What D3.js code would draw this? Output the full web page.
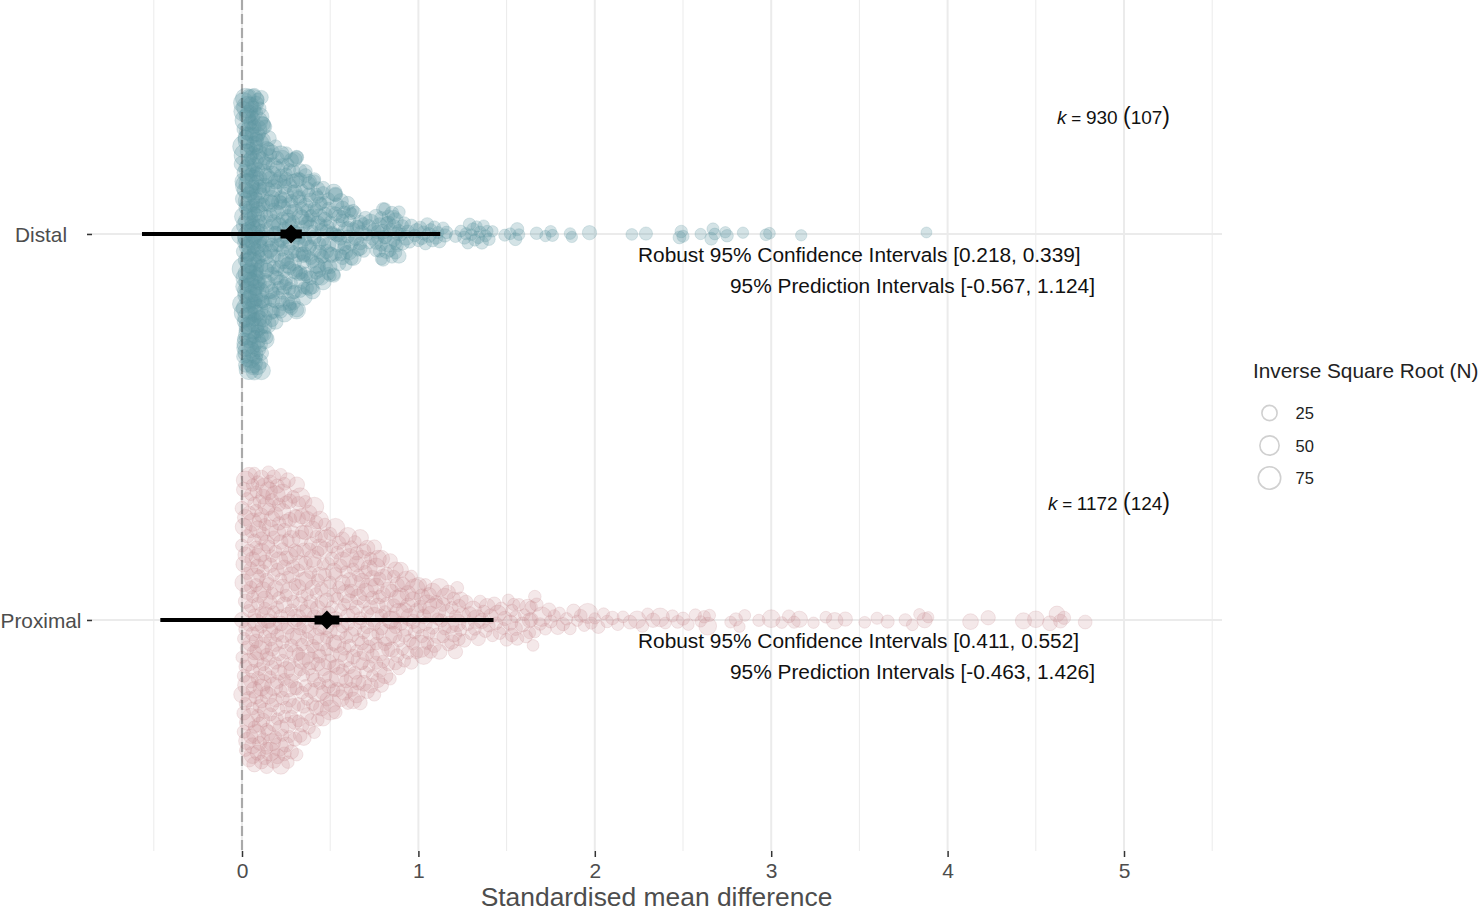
<!DOCTYPE html>
<html>
<head>
<meta charset="utf-8">
<script src="https://cdn.jsdelivr.net/npm/d3@7"></script>
<style>
  body { margin: 0; background: #fff; }
  text { font-family: "Liberation Sans", Arial, sans-serif; }
</style>
</head>
<body>
<svg id="chart"></svg>
<script>
const moderators = ['Distal', 'Proximal'];
const xTicks = [0, 1, 2, 3, 4, 5];
const xMinor = [-0.5, 0.5, 1.5, 2.5, 3.5, 4.5, 5.5];

const meanSmd = [0.278, 0.481];
const ciLow = [0.218, 0.411];
const ciHigh = [0.339, 0.552];
const piLow = [-0.567, -0.463];
const piHigh = [1.124, 1.426];
const kEffects = [930, 1172];
const kStudies = [107, 124];

const legendSizes = [25, 50, 75];

const distalSmd = [
  0,0,0,0.01,0.01,0.01,0.01,0.01,0.01,0.01,
  0.01,0.01,0.01,0.01,0.01,0.01,0.01,0.02,0.02,0.02,
  0.02,0.02,0.02,0.02,0.02,0.02,0.02,0.02,0.02,0.02,
  0.02,0.02,0.02,0.03,0.03,0.03,0.03,0.03,0.03,0.03,
  0.03,0.03,0.03,0.03,0.03,0.03,0.03,0.03,0.03,0.03,
  0.03,0.03,0.04,0.04,0.04,0.04,0.04,0.04,0.04,0.04,
  0.04,0.04,0.04,0.04,0.04,0.04,0.04,0.04,0.04,0.04,
  0.04,0.04,0.04,0.04,0.05,0.05,0.05,0.05,0.05,0.05,
  0.05,0.05,0.05,0.05,0.05,0.05,0.05,0.05,0.05,0.05,
  0.05,0.05,0.06,0.06,0.06,0.06,0.06,0.06,0.06,0.06,
  0.06,0.06,0.06,0.06,0.06,0.06,0.06,0.06,0.06,0.06,
  0.06,0.06,0.07,0.07,0.07,0.07,0.07,0.07,0.07,0.07,
  0.07,0.07,0.07,0.07,0.07,0.07,0.07,0.07,0.07,0.07,
  0.07,0.08,0.08,0.08,0.08,0.08,0.08,0.08,0.08,0.08,
  0.08,0.08,0.08,0.08,0.08,0.08,0.08,0.08,0.08,0.09,
  0.09,0.09,0.09,0.09,0.09,0.09,0.09,0.09,0.09,0.09,
  0.09,0.09,0.09,0.09,0.09,0.09,0.10,0.10,0.10,0.10,
  0.10,0.10,0.10,0.10,0.10,0.10,0.10,0.10,0.10,0.10,
  0.10,0.10,0.11,0.11,0.11,0.11,0.11,0.11,0.11,0.11,
  0.11,0.11,0.11,0.12,0.12,0.12,0.12,0.12,0.12,0.12,
  0.12,0.12,0.12,0.13,0.13,0.13,0.13,0.13,0.13,0.13,
  0.13,0.13,0.14,0.14,0.14,0.14,0.14,0.14,0.14,0.14,
  0.14,0.14,0.14,0.15,0.15,0.15,0.15,0.15,0.15,0.16,
  0.16,0.16,0.16,0.16,0.16,0.16,0.17,0.17,0.17,0.17,
  0.17,0.17,0.17,0.17,0.18,0.18,0.18,0.18,0.18,0.18,
  0.18,0.18,0.19,0.19,0.19,0.19,0.19,0.19,0.20,0.20,
  0.20,0.20,0.20,0.20,0.21,0.21,0.21,0.21,0.21,0.21,
  0.21,0.22,0.22,0.22,0.22,0.22,0.23,0.23,0.23,0.23,
  0.23,0.23,0.23,0.24,0.24,0.24,0.24,0.25,0.25,0.25,
  0.25,0.25,0.25,0.26,0.26,0.26,0.26,0.27,0.27,0.27,
  0.27,0.27,0.28,0.28,0.28,0.28,0.28,0.29,0.29,0.29,
  0.29,0.29,0.30,0.30,0.30,0.30,0.31,0.31,0.31,0.31,
  0.31,0.32,0.32,0.32,0.32,0.33,0.33,0.33,0.33,0.34,
  0.34,0.34,0.35,0.35,0.35,0.36,0.36,0.36,0.36,0.37,
  0.37,0.37,0.38,0.38,0.38,0.39,0.39,0.39,0.40,0.40,
  0.40,0.41,0.41,0.41,0.42,0.42,0.42,0.43,0.43,0.43,
  0.44,0.44,0.44,0.45,0.45,0.45,0.46,0.46,0.46,0.47,
  0.47,0.47,0.48,0.48,0.49,0.49,0.49,0.50,0.50,0.51,
  0.51,0.51,0.52,0.52,0.53,0.53,0.53,0.54,0.54,0.55,
  0.55,0.56,0.56,0.57,0.57,0.58,0.58,0.59,0.59,0.60,
  0.60,0.61,0.61,0.62,0.62,0.63,0.63,0.64,0.65,0.65,
  0.66,0.67,0.67,0.68,0.69,0.70,0.71,0.72,0.72,0.73,
  0.74,0.75,0.76,0.76,0.77,0.78,0.78,0.79,0.79,0.80,
  0.80,0.81,0.81,0.82,0.82,0.83,0.83,0.84,0.85,0.85,
  0.86,0.86,0.87,0.87,0.88,0.88,0.89,0.89,0.90,0.91,
  0.91,0.92,0.93,0.94,0.95,0.96,0.98,0.99,1.00,1.01,
  1.02,1.03,1.04,1.05,1.06,1.07,1.08,1.09,1.10,1.11,
  1.12,1.14,1.15,1.16,1.21,1.24,1.26,1.27,1.28,1.29,
  1.30,1.31,1.32,1.33,1.34,1.35,1.36,1.37,1.38,1.39,
  1.40,1.42,1.49,1.52,1.55,1.56,1.57,1.67,1.72,1.75,
  1.76,1.86,1.87,1.97,2.21,2.29,2.48,2.49,2.50,2.60,
  2.66,2.67,2.68,2.74,2.75,2.84,2.97,2.99,3.17,3.88,
  0.20,0.22,0.24,0.24,0.26,0.28,0.27,0.30,0.32,0.33,
  0.34,0.31,0.35,0.36,0.37,0.38,0.39,0.40,0.42,0.44,
  0.46,0.48,0.50,0.53,0.55,0.57,0.59,0.61,0.35,0.38,
  0.13,0.15,0.16,0.17,0.18,0.19,0.20,0.21,0.22,0.23,
  0.23,0.24,0.25,0.25,0.26,0.26,0.27,0.27,0.28,0.28,
  0.29,0.29,0.30,0.30,0.31,0.31,0.32,0.32,0.33,0.33,
  0.34,0.34,0.35,0.36,0.36,0.37,0.37,0.38,0.39,0.39,
  0.40,0.41,0.41,0.42,0.43,0.43,0.44,0.45,0.45,0.46,
  0.47,0.47,0.48,0.49,0.50,0.51,0.52,0.53,0.54,0.55,
  0.56,0.57,0.58,0.60,0.62,0.63,0.64,0.66,0.67,0.69,
  0.76,0.77,0.79,0.80,0.81,0.83,0.84,0.86,0.87,0.89
];

const distalN = [
  55,20,38,12,70,25,9,44,16,30,
  10,60,22,35,14,48,8,27,64,18,
  40,11,30,52,15,24,9,66,20,34,
  13,45,19,28,58,10,36,17,50,23,
  12,72,26,14,42,31,8,55,21,16,
  38,11,47,24,62,13,29,18,52,9,
  34,20,44,15,68,27,10,39,22,56,
  12,30,17,48,25,9,60,14,33,21,
  42,11,28,90,16,36,24,13,54,19,
  31,10,46,22,15,64,27,12,38,18,
  50,9,26,14,34,20,58,11,29,17,
  43,24,13,36,10,21,52,16,28,12,
  40,19,9,33,15,47,23,11,30,17,
  25,56,13,20,37,10,27,15,44,12,
  22,32,9,18,50,14,26,11,35,16,
  21,42,12,28,10,19,38,15,24,9,
  33,13,46,17,11,27,20,36,10,14,
  25,16,40,12,22,9,30,15,18,34,
  11,24,14,38,10,20,13,28,16,9,
  32,12,18,26,10,15,42,11,21,14,
  24,9,30,13,17,10,35,12,20,15,
  11,26,14,9,38,16,12,22,10,18,
  28,13,8,20,15,11,32,9,17,12,
  24,10,14,30,8,19,12,26,9,15,
  11,22,13,34,10,16,8,20,12,18,
  9,28,14,11,17,7,24,10,13,20,
  8,15,30,11,9,18,12,22,7,14,
  10,26,13,8,17,11,20,9,15,12,
  7,24,10,16,8,13,28,9,11,18,
  14,8,20,10,12,7,16,24,9,13,
  11,18,8,14,22,10,7,13,26,9,
  15,12,8,20,11,16,7,10,30,13,
  9,18,12,7,14,24,8,11,16,10,
  20,7,13,9,26,11,8,15,12,18,
  7,10,22,9,14,8,12,16,11,7,
  19,9,13,8,24,10,7,15,11,12,
  8,18,10,7,14,9,22,12,8,16,
  11,7,13,20,9,8,15,10,12,7,
  17,8,11,24,9,13,7,10,15,8,
  12,18,7,9,14,8,11,20,7,13,
  10,8,16,7,12,9,22,8,14,11,
  7,13,9,18,8,11,7,15,10,26,
  8,12,7,14,9,20,8,11,7,16,
  10,7,13,9,18,8,24,11,7,12,
  9,15,8,20,7,11,14,8,10,7,
  12,8,18,9,7,11,8,14,7,10,
  8,13,7,9,16,7,10,8,12,7,
  9,7,11,8,7,6,10,7,5,8,
  6,9,7,5,8,6,10,5,7,6,
  8,5,7,6,9,10,6,8,5,6,
  7,6,5,14,6,10,9,8,7,5,
  9,7,6,5,8,5,6,6,5,4,
  12,8,16,9,20,7,11,14,8,10,
  7,15,9,12,8,18,7,11,9,13,
  8,10,7,14,9,8,11,7,16,9,
  14,9,20,11,7,16,8,24,10,13,
  7,18,9,12,8,22,10,7,15,9,
  11,7,16,8,13,9,26,7,12,10,
  8,15,7,11,20,9,7,13,8,17,
  10,7,12,9,18,8,11,7,14,9,
  7,13,8,10,16,7,9,12,8,11,
  7,14,9,8,12,7,10,8,13,7,
  9,12,7,10,8,14,7,11,8,9
];

const proximalSmd = [
  0,0,0,0,0,0.01,0.01,0.01,0.01,0.01,
  0.01,0.01,0.01,0.02,0.02,0.02,0.02,0.02,0.02,0.02,
  0.02,0.03,0.03,0.03,0.03,0.03,0.03,0.03,0.03,0.04,
  0.04,0.04,0.04,0.04,0.04,0.04,0.04,0.05,0.05,0.05,
  0.05,0.05,0.05,0.05,0.05,0.05,0.06,0.06,0.06,0.06,
  0.06,0.06,0.06,0.06,0.06,0.07,0.07,0.07,0.07,0.07,
  0.07,0.07,0.07,0.07,0.08,0.08,0.08,0.08,0.08,0.08,
  0.08,0.08,0.08,0.09,0.09,0.09,0.09,0.09,0.09,0.09,
  0.09,0.09,0.10,0.10,0.10,0.10,0.10,0.10,0.10,0.10,
  0.10,0.11,0.11,0.11,0.11,0.11,0.11,0.11,0.11,0.11,
  0.12,0.12,0.12,0.12,0.12,0.12,0.12,0.12,0.12,0.13,
  0.13,0.13,0.13,0.13,0.13,0.13,0.13,0.13,0.14,0.14,
  0.14,0.14,0.14,0.14,0.14,0.14,0.14,0.15,0.15,0.15,
  0.15,0.15,0.15,0.15,0.15,0.15,0.16,0.16,0.16,0.16,
  0.16,0.16,0.16,0.16,0.16,0.17,0.17,0.17,0.17,0.17,
  0.17,0.17,0.17,0.18,0.18,0.18,0.18,0.18,0.18,0.18,
  0.18,0.19,0.19,0.19,0.19,0.19,0.19,0.19,0.19,0.20,
  0.20,0.20,0.20,0.20,0.20,0.20,0.20,0.21,0.21,0.21,
  0.21,0.21,0.21,0.21,0.21,0.22,0.22,0.22,0.22,0.22,
  0.22,0.22,0.22,0.23,0.23,0.23,0.23,0.23,0.23,0.23,
  0.23,0.24,0.24,0.24,0.24,0.24,0.24,0.24,0.24,0.25,
  0.25,0.25,0.25,0.25,0.25,0.25,0.25,0.26,0.26,0.26,
  0.26,0.26,0.26,0.26,0.26,0.27,0.27,0.27,0.27,0.27,
  0.27,0.27,0.28,0.28,0.28,0.28,0.28,0.28,0.28,0.29,
  0.29,0.29,0.29,0.29,0.29,0.29,0.30,0.30,0.30,0.30,
  0.30,0.30,0.30,0.31,0.31,0.31,0.31,0.31,0.31,0.31,
  0.32,0.32,0.32,0.32,0.32,0.32,0.32,0.33,0.33,0.33,
  0.33,0.33,0.33,0.33,0.34,0.34,0.34,0.34,0.34,0.34,
  0.34,0.35,0.35,0.35,0.35,0.35,0.35,0.36,0.36,0.36,
  0.36,0.36,0.36,0.37,0.37,0.37,0.37,0.37,0.37,0.38,
  0.38,0.38,0.38,0.38,0.38,0.39,0.39,0.39,0.39,0.39,
  0.39,0.40,0.40,0.40,0.40,0.40,0.40,0.41,0.41,0.41,
  0.41,0.41,0.41,0.42,0.42,0.42,0.42,0.42,0.42,0.43,
  0.43,0.43,0.43,0.43,0.43,0.44,0.44,0.44,0.44,0.44,
  0.44,0.45,0.45,0.45,0.45,0.45,0.46,0.46,0.46,0.46,
  0.46,0.47,0.47,0.47,0.47,0.47,0.48,0.48,0.48,0.48,
  0.48,0.49,0.49,0.49,0.49,0.49,0.50,0.50,0.50,0.50,
  0.50,0.51,0.51,0.51,0.51,0.51,0.52,0.52,0.52,0.52,
  0.52,0.53,0.53,0.53,0.53,0.53,0.54,0.54,0.54,0.54,
  0.54,0.55,0.55,0.55,0.55,0.56,0.56,0.56,0.56,0.57,
  0.57,0.57,0.57,0.57,0.58,0.58,0.58,0.58,0.59,0.59,
  0.59,0.59,0.59,0.60,0.60,0.60,0.60,0.61,0.61,0.61,
  0.61,0.61,0.62,0.62,0.62,0.62,0.63,0.63,0.63,0.63,
  0.63,0.64,0.64,0.64,0.64,0.65,0.65,0.65,0.65,0.65,
  0.66,0.66,0.66,0.66,0.67,0.67,0.67,0.67,0.67,0.68,
  0.68,0.68,0.68,0.69,0.69,0.69,0.69,0.70,0.70,0.70,
  0.70,0.71,0.71,0.71,0.71,0.72,0.72,0.72,0.72,0.73,
  0.73,0.73,0.73,0.74,0.74,0.74,0.74,0.75,0.75,0.75,
  0.75,0.76,0.76,0.76,0.76,0.77,0.77,0.77,0.77,0.78,
  0.78,0.78,0.78,0.79,0.79,0.79,0.79,0.80,0.80,0.80,
  0.81,0.81,0.81,0.82,0.82,0.82,0.83,0.83,0.83,0.84,
  0.84,0.84,0.85,0.85,0.85,0.86,0.86,0.86,0.87,0.87,
  0.87,0.88,0.88,0.88,0.89,0.89,0.89,0.90,0.90,0.90,
  0.91,0.91,0.92,0.92,0.92,0.93,0.93,0.94,0.94,0.94,
  0.95,0.95,0.96,0.96,0.97,0.97,0.97,0.98,0.98,0.99,
  0.99,1.00,1.00,1.01,1.01,1.02,1.02,1.03,1.03,1.04,
  1.04,1.05,1.05,1.06,1.06,1.07,1.07,1.08,1.08,1.09,
  1.09,1.10,1.11,1.11,1.12,1.12,1.13,1.14,1.14,1.15,
  1.15,1.16,1.17,1.17,1.18,1.19,1.19,1.20,1.20,1.21,
  1.21,1.22,1.22,1.23,1.23,1.24,1.24,1.25,1.26,1.27,
  1.28,1.29,1.30,1.31,1.32,1.33,1.34,1.35,1.36,1.37,
  1.38,1.39,1.40,1.41,1.42,1.43,1.44,1.45,1.46,1.47,
  1.48,1.49,1.50,1.51,1.52,1.53,1.53,1.54,1.55,1.55,
  1.56,1.57,1.59,1.60,1.61,1.62,1.63,1.64,1.65,1.66,
  1.63,1.64,1.66,1.67,1.69,1.70,1.72,1.74,1.75,1.77,
  1.79,1.80,1.82,1.84,1.86,1.88,1.90,1.92,1.94,1.96,
  1.98,2.00,2.02,2.05,2.07,2.10,2.13,2.16,2.20,2.24,
  2.27,2.30,2.33,2.37,2.40,2.44,2.47,2.50,2.53,2.57,
  2.60,2.62,2.64,2.65,2.77,2.80,2.82,2.85,2.93,3.00,
  3.06,3.10,3.13,3.16,3.24,3.31,3.36,3.42,3.53,3.60,
  3.66,3.76,3.80,3.84,3.87,3.89,4.13,4.23,4.43,4.50,
  4.58,4.62,4.64,4.66,4.78
];

const proximalN = [
  18,9,24,12,7,30,10,15,8,20,
  12,26,9,14,7,34,11,18,8,22,
  10,16,28,9,13,7,20,11,40,8,
  15,24,10,7,18,12,30,9,14,8,
  22,11,36,7,16,10,26,8,13,19,
  9,32,12,7,21,10,15,44,8,12,
  24,9,17,7,28,11,14,8,20,10,
  38,7,13,16,9,25,11,8,18,12,
  7,30,10,15,8,22,13,9,42,7,
  17,11,26,8,12,19,7,34,10,14,
  9,21,7,16,28,8,12,10,24,7,
  15,36,9,11,18,7,13,22,8,30,
  10,14,7,20,9,48,12,8,16,11,
  26,7,13,9,19,32,8,15,10,23,
  7,12,38,9,17,8,11,21,14,7,
  28,10,13,8,18,9,34,7,16,12,
  24,8,11,15,7,20,9,42,13,10,
  7,26,12,8,17,14,9,30,7,11,
  19,8,36,10,13,7,22,15,9,12,
  28,7,16,8,11,24,9,14,7,32,
  10,18,8,13,7,21,12,9,40,15,
  7,11,26,8,17,10,14,7,20,9,
  30,12,8,16,7,23,11,13,9,36,
  7,15,10,19,8,28,12,7,14,9,
  22,11,17,7,34,8,13,10,25,7,
  16,9,12,44,8,20,7,14,11,30,
  9,18,7,13,26,8,10,22,7,15,
  12,38,8,17,9,11,24,7,14,19,
  8,32,10,13,7,21,16,9,28,12,
  7,15,40,8,11,18,9,25,7,14,
  10,34,8,20,12,7,16,9,30,13,
  7,23,11,17,8,28,10,14,7,36,
  9,19,12,8,26,7,15,11,22,9,
  42,7,13,18,8,30,10,16,7,24,
  12,9,20,8,34,11,14,7,27,10,
  17,8,38,9,13,21,7,15,11,30,
  8,24,12,7,18,10,44,9,14,8,
  26,11,16,7,32,9,20,13,8,23,
  7,15,10,36,8,12,19,9,28,7,
  14,11,22,8,40,10,17,7,26,13,
  9,18,8,30,12,7,24,15,9,34,
  11,7,20,14,8,28,10,16,7,38,
  9,22,13,8,18,11,32,7,15,10,
  25,8,12,48,9,19,7,14,27,11,
  8,21,16,7,34,10,13,24,9,17,
  7,40,12,8,20,15,9,30,7,11,
  26,8,14,18,10,36,7,23,9,13,
  16,8,28,11,7,20,12,44,9,15,
  7,22,10,32,8,17,13,26,7,11,
  18,9,38,7,14,24,10,16,8,30,
  12,7,21,9,54,13,8,19,11,28,
  7,15,34,9,17,8,24,12,10,20,
  8,30,11,14,7,42,9,18,13,26,
  7,16,10,22,8,36,12,15,9,20,
  8,28,11,7,14,18,9,50,10,16,
  7,24,13,8,62,19,10,14,30,8,
  12,38,9,17,7,22,11,26,8,72,
  14,9,20,7,16,34,10,12,8,24,
  9,18,7,13,28,8,15,10,22,7,
  14,9,30,11,8,17,7,20,10,12,
  8,16,7,24,9,36,13,8,18,7,
  11,20,8,15,7,12,9,26,8,10,
  7,14,9,6,18,8,11,7,13,6,
  10,8,16,6,9,22,7,12,6,8,
  15,7,6,10,8,40,6,12,9,7,
  14,6,10,8,7,12,5,9,6,44,
  7,5,10,6,8,11,7,6,12,28,
  8,6,14,36,6,7,9,10,6,7,
  5,8,30,7,6,10,5,6,7,30,
  6,9,7,22,5,6,24,14,6,7,
  10,8,6,5,18,5,20,14,22,24,
  16,20,12,10,12
];

const xScale = d3.scaleLinear().domain([-0.5, 5.5]).range([153.8, 1212.2]);
const yScale = d3.scalePoint().domain(moderators).range([2.4, 851.6]).padding(0.6);
const rScale = d3.scaleSqrt().domain([0, 75]).range([3.5, 12]);

const panelLeft = 87, panelRight = 1222, panelTop = 0, panelBottom = 851;
const bandwidth = 0.025;

// cap = share of the density peak where the swarm stops getting wider
const series = [
  { name: 'Distal', smd: distalSmd, n: distalN, color: '#5f98a1', cap: 0.7, maxOff: 140, alpha: 0.27 },
  { name: 'Proximal', smd: proximalSmd, n: proximalN, color: '#c68a90', cap: 0.85, maxOff: 149, alpha: 0.2 }
];

// van der Corput, same idea as a quasirandom beeswarm
function vdc(i, base) {
  let out = 0, f = 1 / base;
  while (i > 0) { out += f * (i % base); i = Math.floor(i / base); f /= base; }
  return out;
}

function density(x, values) {
  let sum = 0;
  values.forEach(v => {
    const a = (x - v) / bandwidth, b = (x + v) / bandwidth;
    sum += Math.exp(-0.5 * a * a) + Math.exp(-0.5 * b * b);
  });
  return sum;
}

const svg = d3.select('#chart').attr('width', 1480).attr('height', 911);

// grid
svg.append('g').selectAll('line').data(xMinor).enter().append('line')
  .attr('x1', d => xScale(d)).attr('x2', d => xScale(d))
  .attr('y1', panelTop).attr('y2', panelBottom)
  .attr('stroke', '#ebebeb').attr('stroke-width', 1);
svg.append('g').selectAll('line').data(xTicks).enter().append('line')
  .attr('x1', d => xScale(d)).attr('x2', d => xScale(d))
  .attr('y1', panelTop).attr('y2', panelBottom)
  .attr('stroke', '#ebebeb').attr('stroke-width', 2);
svg.append('g').selectAll('line').data(moderators).enter().append('line')
  .attr('x1', panelLeft).attr('x2', panelRight)
  .attr('y1', d => yScale(d)).attr('y2', d => yScale(d))
  .attr('stroke', '#ebebeb').attr('stroke-width', 2);

// swarm points
series.forEach(s => {
  const peak = d3.max(s.smd, v => density(v, s.smd));
  const points = s.smd.map((v, i) => {
    const env = s.maxOff * Math.min(1, density(v, s.smd) / (peak * s.cap));
    return { smd: v, n: s.n[i], off: (vdc(i + 1, 2) - 0.5) * 2 * env };
  });

  svg.append('g').selectAll('circle').data(points).enter().append('circle')
    .attr('cx', d => xScale(d.smd))
    .attr('cy', d => yScale(s.name) + d.off)
    .attr('r', d => rScale(d.n))
    .attr('fill', s.color)
    .attr('fill-opacity', s.alpha)
    .attr('stroke', s.color)
    .attr('stroke-opacity', 0.2)
    .attr('stroke-width', 1);
});

// zero line
svg.append('line')
  .attr('x1', xScale(0)).attr('x2', xScale(0))
  .attr('y1', panelTop).attr('y2', panelBottom)
  .attr('stroke', '#000').attr('stroke-opacity', 0.28)
  .attr('stroke-width', 2.2).attr('stroke-dasharray', '10,4');

// prediction and confidence intervals
moderators.forEach((m, i) => {
  const y = yScale(m);
  svg.append('line')
    .attr('x1', xScale(piLow[i])).attr('x2', xScale(piHigh[i]))
    .attr('y1', y).attr('y2', y)
    .attr('stroke', '#000').attr('stroke-width', 4);
  svg.append('line')
    .attr('x1', xScale(ciLow[i])).attr('x2', xScale(ciHigh[i]))
    .attr('y1', y).attr('y2', y)
    .attr('stroke', '#000').attr('stroke-width', 9);
  svg.append('path')
    .attr('d', d3.symbol().type(d3.symbolDiamond2).size(230)())
    .attr('transform', `translate(${xScale(meanSmd[i])},${y})`)
    .attr('fill', '#000');

  svg.append('text')
    .attr('x', 638).attr('y', y + 28)
    .attr('font-size', 20.85).attr('fill', '#111')
    .text(`Robust 95% Confidence Intervals [${ciLow[i].toFixed(3)}, ${ciHigh[i].toFixed(3)}]`);
  svg.append('text')
    .attr('x', 730).attr('y', y + 59)
    .attr('font-size', 20.85).attr('fill', '#111')
    .text(`95% Prediction Intervals [${piLow[i].toFixed(3)}, ${piHigh[i].toFixed(3)}]`);

  const k = svg.append('text')
    .attr('x', 1170).attr('y', y - 110)
    .attr('text-anchor', 'end')
    .attr('font-size', 19).attr('fill', '#111');
  k.append('tspan').attr('font-style', 'italic').text('k');
  k.append('tspan').attr('font-size', 17).text(' = ');
  k.append('tspan').text(`${kEffects[i]} `);
  k.append('tspan').attr('font-size', 23).attr('font-weight', 300).text('(');
  k.append('tspan').text(kStudies[i]);
  k.append('tspan').attr('font-size', 23).attr('font-weight', 300).text(')');
});

// axes
const xAxis = svg.append('g')
  .attr('transform', `translate(0,${panelBottom})`)
  .call(d3.axisBottom(xScale).tickValues(xTicks).tickFormat(d3.format('d')).tickSize(6).tickPadding(6));
const yAxis = svg.append('g')
  .attr('transform', `translate(${panelLeft + 5},0)`)
  .call(d3.axisLeft(yScale).tickSize(5).tickPadding(0));
xAxis.select('.domain').remove();
yAxis.select('.domain').remove();
xAxis.selectAll('line').attr('stroke', '#333').attr('stroke-width', 1.5);
yAxis.selectAll('line').attr('stroke', '#333').attr('stroke-width', 1.5);
xAxis.selectAll('text').attr('font-size', 21).attr('fill', '#4d4d4d')
  .style('font-family', '"Liberation Sans", Arial, sans-serif');
yAxis.selectAll('text')
  .attr('font-size', 20.8).attr('fill', '#4d4d4d')
  .attr('text-anchor', 'middle')
  .attr('x', 41 - (panelLeft + 5))
  .attr('y', 0.5)
  .style('font-family', '"Liberation Sans", Arial, sans-serif');

svg.append('text')
  .attr('x', 656.5).attr('y', 906)
  .attr('text-anchor', 'middle')
  .attr('font-size', 26.4).attr('fill', '#4d4d4d')
  .text('Standardised mean difference');

// legend
svg.append('text')
  .attr('x', 1253).attr('y', 378)
  .attr('font-size', 20.8).attr('fill', '#222')
  .text('Inverse Square Root (N)');

const legendY = d3.scalePoint().domain(legendSizes).range([413, 478]);
const legend = svg.append('g').selectAll('g').data(legendSizes).enter().append('g')
  .attr('transform', d => `translate(1269.5,${legendY(d)})`);
legend.append('circle')
  .attr('r', d => rScale(d) - 0.8)
  .attr('fill', '#fff')
  .attr('stroke', '#d0d0d0')
  .attr('stroke-width', 1.6);
legend.append('text')
  .attr('x', 26).attr('y', 6)
  .attr('font-size', 16.5).attr('fill', '#222')
  .text(d => d);
</script>
</body>
</html>
